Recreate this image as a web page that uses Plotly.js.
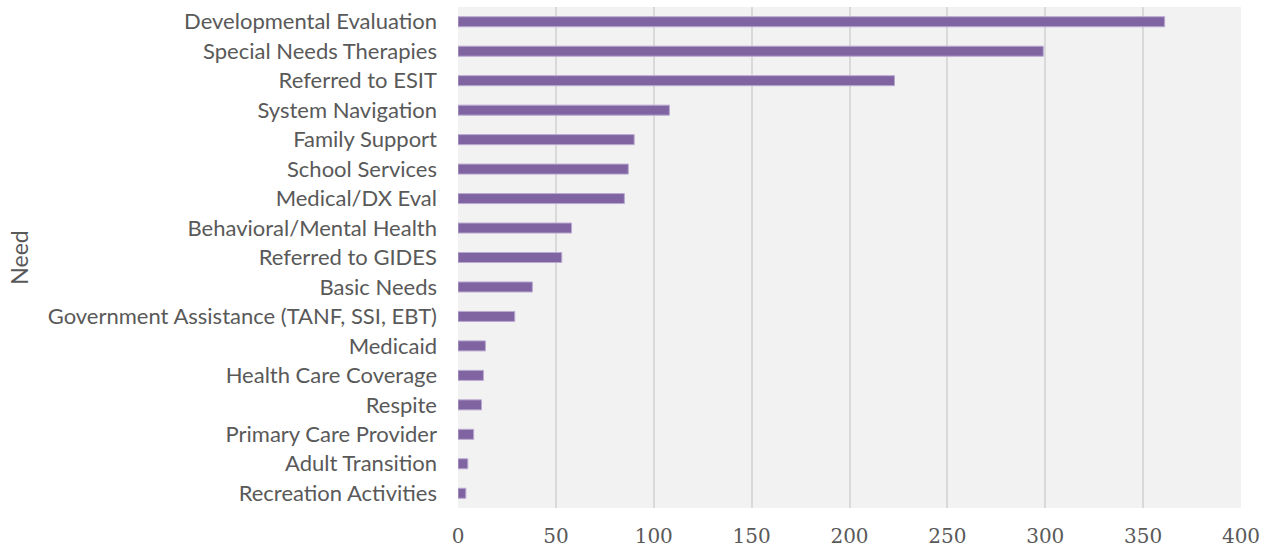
<!DOCTYPE html>
<html>
<head>
<meta charset="utf-8">
<script src="https://cdn.plot.ly/plotly-3.0.1.min.js"></script>
<style>html,body{margin:0;padding:0;background:#fff;}#chart{width:1272px;height:550px;}</style>
</head>
<body>
<div id="chart"></div>
<script>
var needs = [
  "Developmental Evaluation",
  "Special Needs Therapies",
  "Referred to ESIT",
  "System Navigation",
  "Family Support",
  "School Services",
  "Medical/DX Eval",
  "Behavioral/Mental Health",
  "Referred to GIDES",
  "Basic Needs",
  "Government Assistance (TANF, SSI, EBT)",
  "Medicaid",
  "Health Care Coverage",
  "Respite",
  "Primary Care Provider",
  "Adult Transition",
  "Recreation Activities"
];
var counts = [361, 299, 223, 108, 90, 87, 85, 58, 53, 38, 29, 14, 13, 12, 8, 5, 4];
var xTicks = [0, 50, 100, 150, 200, 250, 300, 350, 400];

var trace = {
  type: 'bar',
  orientation: 'h',
  x: counts,
  y: needs,
  marker: {color: '#8064a2', line: {color: '#b9a9d0', width: 1}},
  hoverinfo: 'x+y'
};

var layout = {
  width: 1272,
  height: 550,
  margin: {l: 458, r: 31, t: 7, b: 42},
  paper_bgcolor: '#ffffff',
  plot_bgcolor: '#f2f2f2',
  bargap: 0.66,
  showlegend: false,
  xaxis: {
    range: [0, 400],
    tickvals: xTicks,
    ticktext: xTicks.map(String),
    showgrid: true,
    gridcolor: '#d9d9d9',
    gridwidth: 2,
    zeroline: false,
    showline: false,
    ticks: '',
    ticklabelstandoff: 14,
    tickfont: {family: 'DejaVu Serif, Liberation Serif, serif', size: 20, color: '#595959'},
    automargin: false
  },
  yaxis: {
    type: 'category',
    autorange: 'reversed',
    showgrid: false,
    zeroline: false,
    showline: false,
    ticks: '',
    ticklabelstandoff: 20,
    tickfont: {family: 'Lato, Open Sans, sans-serif', size: 22, color: '#595959'},
    title: {text: 'Need', standoff: 12, font: {family: 'Lato, Open Sans, sans-serif', size: 23, color: '#595959'}},
    automargin: false
  }
};

Plotly.newPlot('chart', [trace], layout, {displayModeBar: false, staticPlot: false});
</script>
</body>
</html>
